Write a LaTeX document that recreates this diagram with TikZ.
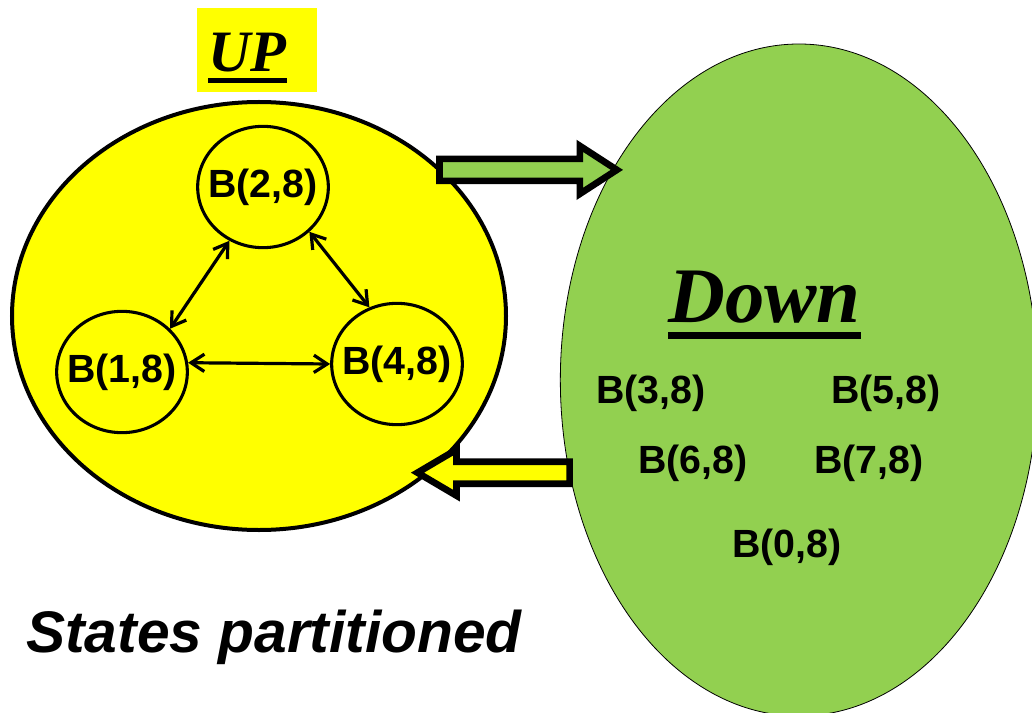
\documentclass[tikz,border=0pt]{standalone}
\usepackage{fontspec}
\setmainfont{Liberation Serif}
\setsansfont{Liberation Sans}
\usetikzlibrary{calc}
\usetikzlibrary{arrows.meta}
\usetikzlibrary{shapes.geometric}
\definecolor{UpYellow}{HTML}{FFFF00}
\definecolor{DownGreen}{HTML}{92D050}

\begin{document}
\begin{tikzpicture}[x=0.75pt, y=-0.75pt,
  partition/.style={draw, ellipse, inner sep=0pt, outer sep=0pt},
  blk/.style={draw, ellipse, line width=2.3pt, inner xsep=-9pt, inner ysep=0pt,
    minimum width=98pt, minimum height=91pt,
    font=\sffamily\bfseries\fontsize{29.5}{30}\selectfont},
  blkLbl/.style={anchor=base, inner sep=0pt,
    font=\sffamily\bfseries\fontsize{29.5}{30}\selectfont},
  heading/.style={anchor=base west, inner sep=0pt,
    font=\rmfamily\bfseries\itshape\fontsize{#1}{#1}\selectfont},
  blockArr/.style={draw, line width=5pt, miter limit=10},
  trans/.style={{Straight Barb[length=10pt,width=13pt]}-{Straight Barb[length=10pt,width=13pt]},
    line width=2.4pt}]
  \useasboundingbox (0,0) rectangle (1032,713);

  % the two parts of the state space
  \node[partition, line width=3pt, fill=UpYellow,
    minimum width=370.5pt, minimum height=321pt] (up) at (259,316) {};
  \node[partition, line width=0.6pt, fill=DownGreen,
    minimum width=358pt, minimum height=504pt] (down) at (799,380) {};

  \node[fill=UpYellow, minimum width=90pt, minimum height=63pt,
    inner sep=0pt] (upBox) at (257,50) {};
  \node[heading=44] (upLbl) at (208,72) {UP};
  \draw[line width=3.75pt] ([yshift=-6.75pt]upLbl.base west)
  -- ([yshift=-6.75pt]upLbl.base east);

  \node[heading=59] (downLbl) at (668,322) {Down};
  \draw[line width=5.25pt] ([yshift=-9.75pt]downLbl.base west)
  -- ([yshift=-9.75pt]downLbl.base east);

  \node[blk] (b2) at (263,187) {B(2,8)};
  \node[blk] (b1) at (122,372) {B(1,8)};
  \node[blk] (b4) at (397,364) {B(4,8)};

  \draw[trans] (b2.238) -- (b1.42);
  \draw[trans] (b2.316) -- (b4.116);
  \draw[trans] (b1.8) -- (b4.180);

  \foreach \k/\px/\py in {3/651/403, 5/886/403, 6/693/473, 7/869/473, 0/787/557}{%
    \node[blkLbl] (b\k) at (\px,\py) {B(\k,8)};
  }

  % block arrows between the parts
  \coordinate (fwdTail) at (up.39);
  \coordinate (fwdTip)  at (fwdTail -| down.130);
  \draw[blockArr, fill=DownGreen] ($(fwdTail)+(0,-11)$)
  -- ($(fwdTip)+(-37,-11)$) -- ($(fwdTip)+(-37,-24)$) -- (fwdTip)
  -- ($(fwdTip)+(-37,24)$) -- ($(fwdTip)+(-37,11)$)
  -- ($(fwdTail)+(0,11)$) -- cycle;

  \coordinate (bckTail) at (down.202);
  \coordinate (bckTip)  at (bckTail -| up.314);
  \draw[blockArr, fill=UpYellow] ($(bckTail)+(0,-11)$)
  -- ($(bckTip)+(39,-11)$) -- ($(bckTip)+(39,-23)$) -- (bckTip)
  -- ($(bckTip)+(39,23)$) -- ($(bckTip)+(39,11)$)
  -- ($(bckTail)+(0,11)$) -- cycle;

  \node[anchor=base west, inner sep=0pt,
    font=\sffamily\bfseries\itshape\fontsize{44}{44}\selectfont]
    (caption) at (26,652) {States partitioned};
\end{tikzpicture}
\end{document}
